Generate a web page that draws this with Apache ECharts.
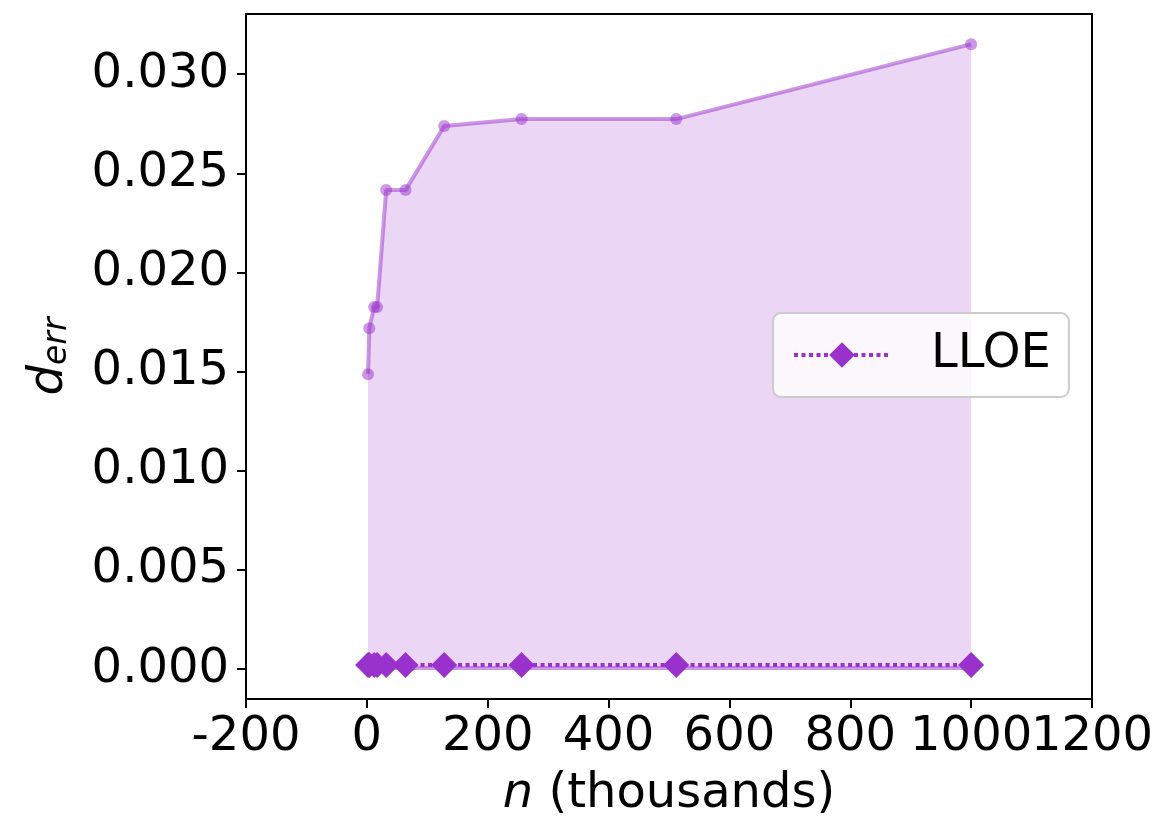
<!DOCTYPE html>
<html>
<head>
<meta charset="utf-8">
<style>
  html, body { margin: 0; padding: 0; background: #fff; }
  #chart { width: 1163px; height: 825px; }
</style>
<script src="https://cdn.jsdelivr.net/npm/echarts@6/dist/echarts.min.js"></script>
</head>
<body>
<div id="chart"></div>
<script>
// ---- data ----
const xValues = [2, 4, 12, 17, 32, 64, 128, 256, 512, 1000];            // n (thousands)
const upperValues = [0.01487, 0.01719, 0.01825, 0.01825, 0.02415, 0.02415, 0.02738, 0.02773, 0.02773, 0.03151];
const lowerValues = [0.00005, 0.00005, 0.00005, 0.00005, 0.00005, 0.00005, 0.00005, 0.00005, 0.00005, 0.00005];
const meanValues  = [0.0002, 0.0002, 0.0002, 0.0002, 0.0002, 0.0002, 0.0002, 0.0002, 0.0002, 0.0002];
const xTicks = [-200, 0, 200, 400, 600, 800, 1000, 1200];
const yTicks = [0, 0.005, 0.01, 0.015, 0.02, 0.025, 0.03];
const seriesName = 'LLOE';

const FONT = 'DejaVu Sans';
const FS = 48;
const BASE = 'rgba(153,50,204,1)';
const HALF = 'rgba(153,50,204,0.5)';
const FILL = 'rgba(153,50,204,0.2)';

const pairs = (ys) => xValues.map((x, i) => [x, ys[i]]);
const xLabelStyle = {
  color: '#000', fontFamily: FONT, fontSize: FS, margin: 15,
  hideOverlap: false,
  formatter: (v) => String(v)
};

const chart = echarts.init(document.getElementById('chart'), null, { renderer: 'canvas' });
chart.setOption({
  animation: false,
  backgroundColor: '#fff',
  grid: {
    left: 246, right: 71, top: 14, bottom: 126,
    show: true, borderColor: '#000', borderWidth: 2, backgroundColor: 'transparent'
  },
  xAxis: [
    {
      type: 'value',
      min: xTicks[0], max: xTicks[xTicks.length - 1], interval: 200,
      splitLine: { show: false },
      axisLine: { show: true, onZero: false, lineStyle: { color: '#000', width: 2 } },
      axisTick: { show: true, inside: false, length: 9, customValues: xTicks, lineStyle: { color: '#000', width: 2 } },
      axisLabel: Object.assign({ customValues: xTicks.slice(0, -1) }, xLabelStyle),
      name: '{i|n} (thousands)',
      nameLocation: 'middle',
      nameGap: 72,
      nameTextStyle: {
        color: '#000', fontFamily: FONT, fontSize: FS,
        rich: { i: { fontStyle: 'italic', fontFamily: FONT, fontSize: FS, color: '#000' } }
      }
    },
    {
      type: 'value',
      position: 'bottom',
      min: xTicks[0], max: xTicks[xTicks.length - 1], interval: 200,
      splitLine: { show: false },
      axisLine: { show: false, onZero: false },
      axisTick: { show: false },
      axisLabel: Object.assign({ customValues: xTicks.slice(-1) }, xLabelStyle)
    }
  ],
  yAxis: {
    type: 'value',
    min: -0.00151, max: 0.03303,
    splitLine: { show: false },
    axisLine: { show: true, onZero: false, lineStyle: { color: '#000', width: 2 } },
    axisTick: { show: true, inside: false, length: 9, customValues: yTicks, lineStyle: { color: '#000', width: 2 } },
    axisLabel: {
      color: '#000', fontFamily: FONT, fontSize: FS, margin: 17,
      customValues: yTicks,
      formatter: (v) => v.toFixed(3)
    },
    name: '{d|d}{s|err}',
    nameLocation: 'middle',
    nameGap: 172,
    nameTextStyle: {
      color: '#000', fontFamily: FONT, fontSize: FS,
      rich: {
        d: { fontStyle: 'italic', fontFamily: FONT, fontSize: FS, color: '#000', verticalAlign: 'bottom', lineHeight: 52 },
        s: { fontStyle: 'italic', fontFamily: FONT, fontSize: 33, color: '#000', verticalAlign: 'bottom', lineHeight: 23 }
      }
    }
  },
  legend: {
    data: [seriesName],
    left: 773, top: 313,
    orient: 'vertical',
    padding: [18, 18, 18, 19],
    backgroundColor: 'rgba(255,255,255,0.8)',
    borderColor: '#cccccc', borderWidth: 2, borderRadius: 8,
    itemWidth: 96, itemHeight: 32,
    lineStyle: { width: 4, type: [4, 3.5], cap: 'butt', color: BASE },
    textStyle: { color: '#000', fontFamily: FONT, fontSize: FS, lineHeight: 48, padding: [0, 0, 0, 36] }
  },
  series: [
    {
      name: 'band',
      type: 'custom',
      silent: true,
      z: 1,
      data: xValues.map((x, i) => [x, lowerValues[i], upperValues[i]]),
      encode: { x: 0, y: [1, 2] },
      renderItem: function (params, api) {
        if (params.dataIndex !== 0) return null;
        const pts = [];
        for (let i = 0; i < xValues.length; i++) pts.push(api.coord([xValues[i], upperValues[i]]));
        for (let i = xValues.length - 1; i >= 0; i--) pts.push(api.coord([xValues[i], lowerValues[i]]));
        return { type: 'polygon', shape: { points: pts }, style: { fill: FILL, stroke: null } };
      }
    },
    {
      name: 'lower',
      type: 'line',
      data: pairs(lowerValues),
      symbol: 'circle', symbolSize: 12,
      itemStyle: { color: HALF },
      lineStyle: { color: HALF, width: 4 },
      z: 2, silent: true
    },
    {
      name: 'upper',
      type: 'line',
      data: pairs(upperValues),
      symbol: 'circle', symbolSize: 12,
      itemStyle: { color: HALF },
      lineStyle: { color: HALF, width: 4 },
      z: 2, silent: true
    },
    {
      name: seriesName,
      type: 'line',
      data: pairs(meanValues),
      symbol: 'diamond', symbolSize: 26,
      itemStyle: { color: BASE },
      lineStyle: { color: BASE, width: 4, type: [4, 3.5], cap: 'butt' },
      z: 4
    }
  ]
});
</script>
</body>
</html>
